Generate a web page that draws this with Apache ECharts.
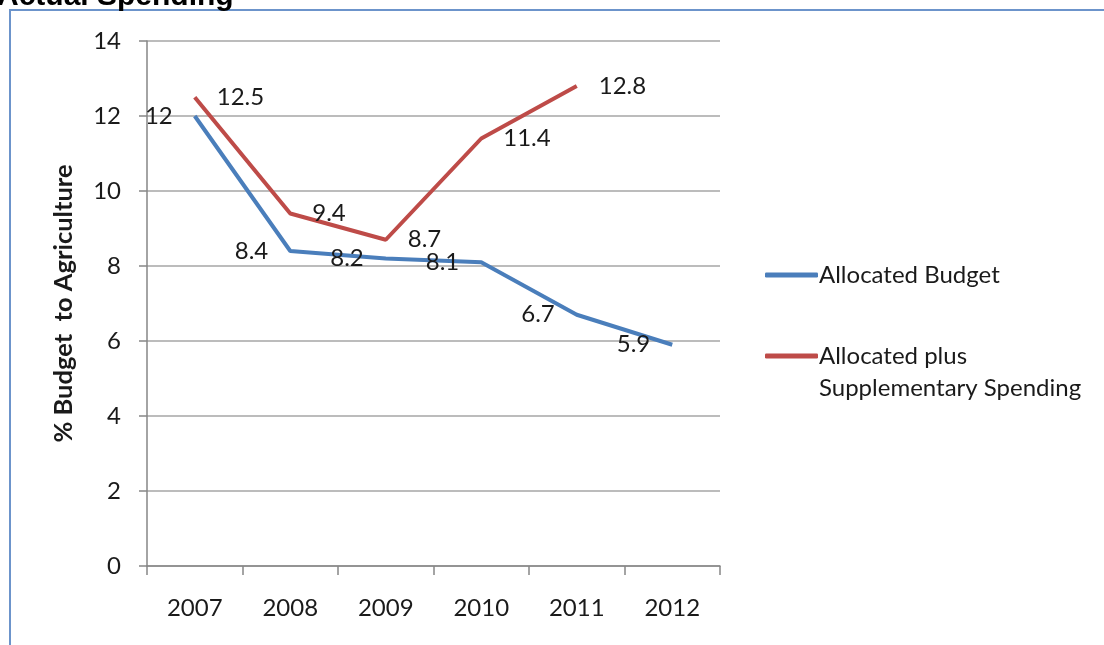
<!DOCTYPE html>
<html>
<head>
<meta charset="utf-8">
<script src="https://cdn.jsdelivr.net/npm/echarts@6/dist/echarts.min.js"></script>
<style>
  html, body { margin: 0; padding: 0; background: #fff; }
  #chart { width: 1104px; height: 645px; }
</style>
</head>
<body>
<div id="chart"></div>
<script>
// Share of the national budget going to agriculture, 2007–2012
const years = ['2007', '2008', '2009', '2010', '2011', '2012'];
const allocatedBudget = [12, 8.4, 8.2, 8.1, 6.7, 5.9];
const allocatedPlusSupplementary = [12.5, 9.4, 8.7, 11.4, 12.8, null];
const yTicks = { min: 0, max: 14, interval: 2 };

const nameBudget = 'Allocated Budget';
const nameSupp = 'Allocated plus Supplementary Spending';

const FONT = 'Lato';
const TEXT = '#1a1a1a';
const GRID = '#a6a6a6';
const AXIS = '#868686';

const chart = echarts.init(document.getElementById('chart'), null, { renderer: 'canvas' });

// value labels ride on tiny, invisible-sized symbols
function valueLabel(position) {
  return {
    show: true,
    position: position,
    distance: 22,
    fontFamily: FONT,
    fontSize: 24,
    color: TEXT
  };
}

chart.setOption({
  animation: false,
  backgroundColor: '#fff',
  title: {
    text: 'Actual Spending',
    left: -3,
    top: -18,
    padding: 0,
    textStyle: {
      fontFamily: '"Liberation Sans", Arial, sans-serif',
      fontWeight: 'bold',
      fontSize: 30,
      color: '#000'
    }
  },
  graphic: [{
    type: 'rect',
    shape: { x: 10, y: 10, width: 1200, height: 700 },
    style: { fill: 'none', stroke: '#6c94cb', lineWidth: 2 },
    silent: true,
    z: 0
  }],
  grid: { left: 147, right: 384, top: 41, bottom: 79, containLabel: false },
  legend: {
    orient: 'vertical',
    left: 760,
    top: 254,
    itemWidth: 53,
    itemHeight: 5,
    itemGap: 17,
    icon: 'roundRect',
    data: [nameBudget, nameSupp],
    formatter: function (n) {
      return n === nameSupp ? '\nAllocated plus\nSupplementary Spending' : n;
    },
    textStyle: { fontFamily: FONT, fontSize: 24, lineHeight: 32, color: TEXT, padding: [0, 0, 0, -4] }
  },
  xAxis: {
    type: 'category',
    data: years,
    boundaryGap: true,
    axisLine: { lineStyle: { color: AXIS, width: 1.5 } },
    axisTick: { show: true, length: 9, lineStyle: { color: AXIS, width: 1.5 } },
    axisLabel: { margin: 30, fontFamily: FONT, fontSize: 24, color: TEXT },
    splitLine: { show: false }
  },
  yAxis: {
    type: 'value',
    min: yTicks.min,
    max: yTicks.max,
    interval: yTicks.interval,
    name: '% Budget  to Agriculture',
    nameLocation: 'middle',
    nameRotate: 90,
    nameGap: 70,
    nameTextStyle: { fontFamily: FONT, fontWeight: 'bold', fontSize: 25.5, color: TEXT },
    axisLine: { show: true, lineStyle: { color: AXIS, width: 1.5 } },
    axisTick: { show: true, length: 8, lineStyle: { color: AXIS, width: 1.5 } },
    axisLabel: { margin: 26, fontFamily: FONT, fontSize: 24, color: TEXT },
    splitLine: { lineStyle: { color: GRID, width: 1.5 } }
  },
  series: [
    {
      name: nameBudget,
      type: 'line',
      data: allocatedBudget,
      symbol: 'circle',
      symbolSize: 0.01,
      showSymbol: true,
      color: '#4a7ebb',
      lineStyle: { width: 4, color: '#4a7ebb' },
      label: valueLabel('left'),
      z: 3
    },
    {
      name: nameSupp,
      type: 'line',
      data: allocatedPlusSupplementary,
      symbol: 'circle',
      symbolSize: 0.01,
      showSymbol: true,
      color: '#be4b48',
      lineStyle: { width: 4, color: '#be4b48' },
      label: valueLabel('right'),
      z: 2
    }
  ]
});
</script>
</body>
</html>
